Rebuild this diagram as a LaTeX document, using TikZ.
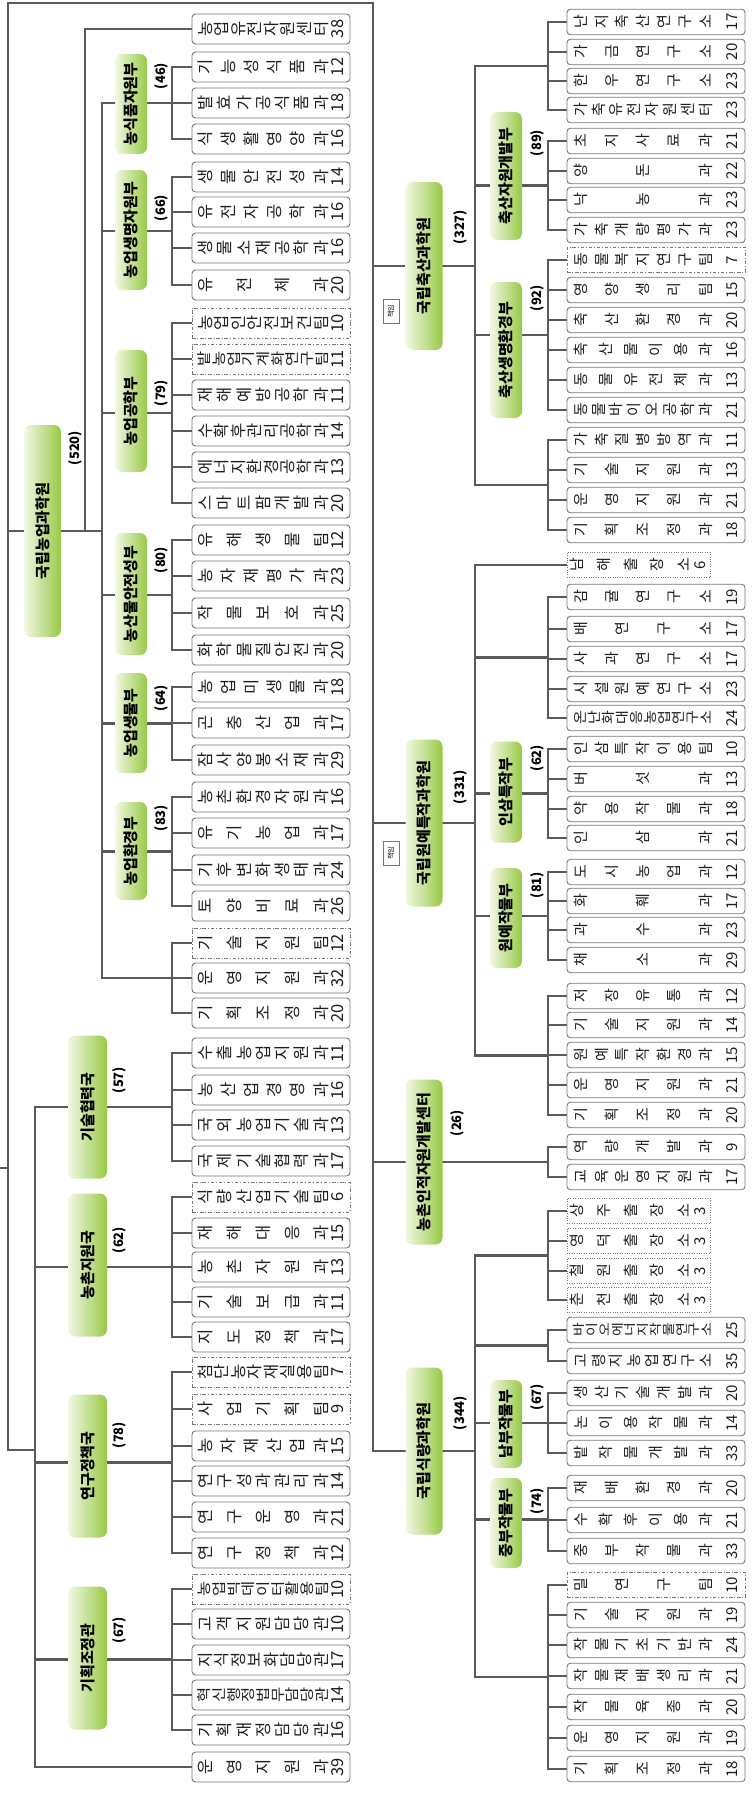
\documentclass[tikz,border=0pt]{standalone}
\usepackage{fontspec}
\setmainfont{Noto Sans CJK KR}
\usepackage{graphicx}
\usetikzlibrary{calc, backgrounds}
\definecolor{linegray}{HTML}{5A5A5A}
\definecolor{boxgray}{HTML}{777777}
\definecolor{leafgreen}{HTML}{98C946}
\definecolor{palegreen}{HTML}{F2F8E4}
\definecolor{inkgray}{HTML}{1E1E1E}

% one glyph (or a short run) turned a quarter turn, centred on a fixed strut
\newcommand{\rg}[1]{\rotatebox[origin=c]{90}{\rule[-0.12em]{0pt}{1em}#1}}
\def\spreadfill#1#2\relax{\rg{#1}\ifx\relax#2\relax\else\hfill\spreadfill#2\relax\fi}
\def\spreadtight#1#2\relax{\rg{#1}\ifx\relax#2\relax\else\kern0.4pt\spreadtight#2\relax\fi}
\newsavebox{\namebox}
% #1 row width, #2 name width, #3 name, #4 staff count
\newcommand{\leaftext}[4]{%
  \sbox{\namebox}{\expandafter\spreadtight#3\relax}%
  \hbox to #1pt{%
    \ifdim\wd\namebox>#2pt
      \resizebox{#2pt}{\height}{\usebox{\namebox}}%
    \else
      \hbox to #2pt{\expandafter\spreadfill#3\relax}%
    \fi
    \hfill\rg{#4}}}
% bracket: x of bracket, name prefix, first, last
\newcommand{\branch}[4]{%
  \draw[conn] (#1 |- #2#3.west) -- (#1 |- #2#4.west);
  \foreach \i in {#3,...,#4} {\draw[conn] (#1 |- #2\i.west) -- (#2\i.west);}
  \coordinate (m#2#3) at ($(#2#3.west)!0.5!(#2#4.west)$);}
% trunk -> group box -> bracket, at the height of the bracket middle
\newcommand{\feed}[4]{%
  \draw[conn] (#1 |- #3) -- (#2.west |- #3);
  \draw[conn] (#2.east |- #3) -- (#4 |- #3);}
\newcommand{\direct}[3]{\draw[conn] (#1 |- #2) -- (#3 |- #2);}

\begin{document}
\begin{tikzpicture}[x=1pt, y=-1pt,
  conn/.style={draw=linegray, line width=2.4pt, line cap=rect},
  leafL/.style={draw=boxgray, line width=0.9pt, fill=white, rounded corners=3.5pt,
    minimum width=158pt, minimum height=30pt, inner sep=0pt,
    font=\fontsize{16.5}{16.5}\selectfont, text=inkgray},
  dashL/.style={leafL, sharp corners, dash pattern=on 3.5pt off 1.8pt on 1pt off 1.8pt},
  leafR/.style={leafL, minimum width=178pt, minimum height=25.5pt,
    font=\fontsize{15}{15}\selectfont},
  dashR/.style={leafR, sharp corners, dash pattern=on 3.5pt off 1.8pt on 1pt off 1.8pt},
  dotS/.style={leafR, sharp corners, minimum width=143pt, dash pattern=on 1pt off 1.4pt},
  grn/.style={left color=palegreen, right color=leafgreen, rounded corners=7pt,
    inner sep=0pt, font=\fontsize{15}{15}\selectfont\bfseries, text=black},
  cnt/.style={inner sep=0pt, font=\fontsize{13}{13}\selectfont\bfseries, text=black},
  tag/.style={draw=boxgray, line width=0.6pt, fill=white, minimum width=16pt,
    minimum height=24pt, inner sep=0pt, font=\fontsize{7}{7}\selectfont}]

\useasboundingbox (0,0) rectangle (755,1795);

% --- trunk positions ---
\coordinate (root) at (0,1168);
\coordinate (topL) at (8,3);
\coordinate (topR) at (373,3);
\coordinate (a85) at (85,0);
\coordinate (tA) at (102,0);
\coordinate (tB) at (35,0);
\coordinate (jLB) at (35,1450);
\coordinate (bxL) at (172,0);
\coordinate (tC) at (475,0);
\coordinate (bxR) at (548,0);

% --- leaves, left column ---
\foreach \nd/\nm/\ct/\yy in {L0/농업유전자원센터/38/29,
  L1/기능성식품과/12/67, L2/발효가공식품과/18/103, L3/식생활영양과/16/139,
  L4/생물안전성과/14/177, L5/유전자공학과/16/212, L6/생물소재공학과/16/248, L7/유전체과/20/285,
  L10/재해예방공학과/11/395, L11/수확후관리공학과/14/431, L12/에너지환경공학과/13/467,
  L13/스마트팜개발과/20/503,
  L14/유해생물팀/12/540, L15/농자재평가과/23/576, L16/작물보호과/25/613, L17/화학물질안전과/20/650,
  L18/농업미생물과/18/687, L19/곤충산업과/17/723, L20/잠사양봉소재과/29/760,
  L21/농촌환경자원과/16/797, L22/유기농업과/17/833, L23/기후변화생태과/24/870, L24/토양비료과/26/906,
  L26/운영지원과/32/978, L27/기획조정과/20/1013,
  L28/수출농업지원과/11/1053, L29/농산업경영과/16/1090, L30/국외농업기술과/13/1125,
  L31/국제기술협력과/17/1161,
  L33/재해대응과/15/1233, L34/농촌자원과/13/1267, L35/기술보급과/11/1302, L36/지도정책과/17/1337,
  L39/농자재산업과/15/1446, L40/연구성과관리과/14/1481, L41/연구운영과/21/1517, L42/연구정책과/12/1553,
  L44/고객지원담당관/10/1624, L45/지식정보화담당관/17/1660, L46/혁신행정법무담당관/14/1695,
  L47/기획재정담당관/16/1730, L48/운영지원과/39/1767}
  \node[leafL] (\nd) at (271,\yy) {\leaftext{148}{132}{\nm}{\ct}};
\foreach \nd/\nm/\ct/\yy in {L8/농업인안전보건팀/10/323, L9/밭농업기계화연구팀/11/359,
  L25/기술지원팀/12/943, L32/식량산업기술팀/6/1197, L37/첨단농자재실용팀/7/1372,
  L38/사업기획팀/9/1409, L43/농업빅데이터활용팀/10/1589}
  \node[dashL] (\nd) at (271,\yy) {\leaftext{148}{132}{\nm}{\ct}};

% --- leaves, right column ---
\foreach \nd/\nm/\ct/\yy in {R0/난지축산연구소/17/22, R1/가금연구소/20/52, R2/한우연구소/23/81,
  R3/가축유전자원센터/23/110,
  R4/초지사료과/21/141, R5/양돈과/22/171, R6/낙농과/23/200, R7/가축개량평가과/23/230,
  R9/영양생리팀/15/290, R10/축산환경과/20/320, R11/축산물이용과/16/350, R12/동물유전체과/13/380,
  R13/동물바이오공학과/21/410,
  R14/가축질병방역과/11/440, R15/기술지원과/13/470, R16/운영지원과/21/500, R17/기획조정과/18/530,
  R19/감귤연구소/19/597, R20/배연구소/17/629, R21/사과연구소/17/659, R22/시설원예연구소/23/689,
  R23/온난화대응농업연구소/24/718,
  R24/인삼특작이용팀/10/749, R25/버섯과/13/779, R26/약용작물과/18/809, R27/인삼과/21/838,
  R28/도시농업과/12/872, R29/화훼과/17/901, R30/과수과/23/930, R31/채소과/29/960,
  R32/저장유통과/12/996, R33/기술지원과/14/1025, R34/원예특작환경과/15/1055,
  R35/운영지원과/21/1085, R36/기획조정과/20/1115,
  R37/역량개발과/9/1147, R38/교육운영지원과/17/1177,
  R43/바이오에너지작물연구소/25/1330, R44/고령지농업연구소/35/1361,
  R45/생산기술개발과/20/1393, R46/논이용작물과/14/1423, R47/밭작물개발과/33/1453,
  R48/재배환경과/20/1488, R49/수확후이용과/21/1520, R50/중부작물과/33/1551,
  R52/기술지원과/19/1615, R53/작물기초기반과/24/1645, R54/작물재배생리과/21/1676,
  R55/작물육종과/20/1707, R56/운영지원과/19/1738, R57/기획조정과/18/1769}
  \node[leafR] (\nd) at (656,\yy) {\leaftext{166}{140}{\nm}{\ct}};
\foreach \nd/\nm/\ct/\yy in {R8/동물복지연구팀/7/260, R51/밀연구팀/10/1585}
  \node[dashR] (\nd) at (656,\yy) {\leaftext{166}{140}{\nm}{\ct}};
\foreach \nd/\nm/\ct/\yy in {R18/남해출장소/6/565, R39/상주출장소/3/1211, R40/영덕출장소/3/1241,
  R41/철원출장소/3/1271, R42/춘천출장소/3/1300}
  \node[dotS] (\nd) at (638.5,\yy) {\leaftext{138}{122}{\nm}{\ct}};

% --- departments (부) ---
\foreach \nd/\nm/\ct/\xx/\yy/\hh/\cx/\cy in {gA1/농식품자원부/46/131/104/100/161/76,
  gA2/농업생명자원부/66/131/230/120/161/208, gA3/농업공학부/79/131/411/122/161/393,
  gA4/농산물안전성부/80/131/594/122/161/560, gA5/농업생물부/64/131/723/100/161/698,
  gA6/농업환경부/83/131/851/98/161/818,
  gC1/축산자원개발부/89/506/176/128/537/143, gC2/축산생명환경부/92/506/350/136/537/298,
  gC3/인삼특작부/62/506/792/101/537/758, gC4/원예작물부/81/506/918/100/537/885,
  gC5/남부작물부/67/506/1424/88/537/1397, gC6/중부작물부/74/506/1523/90/537/1501}{
  \node[grn, minimum width=32pt, minimum height=\hh pt] (\nd) at (\xx,\yy) {\rg{\nm}};
  \node[cnt] (\nd-n) at (\cx,\cy) {\rg{(\ct)}};
}

% --- bureaus (국) ---
\foreach \nd/\nm/\ct/\yy/\cy in {gB1/기술협력국/57/1107/1080, gB2/농촌지원국/62/1265/1240,
  gB3/연구정책국/78/1466/1435, gB4/기획조정관/67/1658/1630}{
  \node[grn, minimum width=39pt, minimum height=143pt] (\nd) at (87.5,\yy) {\rg{\nm}};
  \node[cnt] (\nd-n) at (119.5,\cy) {\rg{(\ct)}};
}

% --- institutes (원) ---
\foreach \nd/\nm/\ct/\xx/\yy/\hh/\cx/\cy in {nias/국립농업과학원/520/42.5/531/212/75/448,
  nlsc/국립축산과학원/327/424/266/168/460/227, nihh/국립원예특작과학원/331/424/823/167/460/787,
  hrdc/농촌인적자원개발센터/26/424/1162/165/457/1123, nics/국립식량과학원/344/424/1451/167/460/1413}{
  \node[grn, minimum width=37pt, minimum height=\hh pt] (\nd) at (\xx,\yy) {\rg{\nm}};
  \node[cnt] (\nd-n) at (\cx,\cy) {\rg{(\ct)}};
}

% --- agency tags ---
\node[tag] (tag1) at (391,311) {\rg{책임}};
\node[tag] (tag2) at (391,853) {\rg{책임}};

% --- connectors ---
\begin{scope}[on background layer]
\draw[conn] (root) -- (topL |- root);
\draw[conn] (jLB) -| (topL) -- (topR) |- (nics.west);

% 국립농업과학원
\draw[conn] (topL |- nias.west) -- (nias.west);
\draw[conn] (nias.east) -- (tA |- nias.east);
\draw[conn] (a85 |- nias.east) |- (L0.west);
\branch{bxL}{L}{1}{3}   \feed{tA}{gA1}{mL1}{bxL}
\branch{bxL}{L}{4}{7}   \feed{tA}{gA2}{mL4}{bxL}
\branch{bxL}{L}{8}{13}  \feed{tA}{gA3}{mL8}{bxL}
\branch{bxL}{L}{14}{17} \feed{tA}{gA4}{mL14}{bxL}
\branch{bxL}{L}{18}{20} \feed{tA}{gA5}{mL18}{bxL}
\branch{bxL}{L}{21}{24} \feed{tA}{gA6}{mL21}{bxL}
\branch{bxL}{L}{25}{27} \direct{tA}{mL25}{bxL}
\draw[conn] (tA |- mL1) -- (tA |- mL25);

% 국 / 관
\branch{bxL}{L}{28}{31} \feed{tB}{gB1}{mL28}{bxL}
\branch{bxL}{L}{32}{36} \feed{tB}{gB2}{mL32}{bxL}
\branch{bxL}{L}{37}{42} \feed{tB}{gB3}{mL37}{bxL}
\branch{bxL}{L}{43}{47} \feed{tB}{gB4}{mL43}{bxL}
\draw[conn] (tB |- mL28) |- (L48.west);

% 국립축산과학원
\draw[conn] (topR |- nlsc.west) -- (nlsc.west);
\draw[conn] (nlsc.east) -- (tC |- nlsc.east);
\branch{bxR}{R}{0}{3}   \direct{tC}{mR0}{bxR}
\branch{bxR}{R}{4}{7}   \feed{tC}{gC1}{mR4}{bxR}
\branch{bxR}{R}{8}{13}  \feed{tC}{gC2}{mR8}{bxR}
\branch{bxR}{R}{14}{17} \direct{tC}{mR14}{bxR}
\draw[conn] (tC |- mR0) -- (tC |- mR14);

% 국립원예특작과학원
\draw[conn] (topR |- nihh.west) -- (nihh.west);
\draw[conn] (nihh.east) -- (tC |- nihh.east);
\branch{bxR}{R}{19}{23} \direct{tC}{mR19}{bxR}
\branch{bxR}{R}{24}{27} \feed{tC}{gC3}{mR24}{bxR}
\branch{bxR}{R}{28}{31} \feed{tC}{gC4}{mR28}{bxR}
\branch{bxR}{R}{32}{36} \direct{tC}{mR32}{bxR}
\draw[conn] (tC |- mR32) |- (R18.west);

% 농촌인적자원개발센터
\draw[conn] (topR |- hrdc.west) -- (hrdc.west);
\branch{bxR}{R}{37}{38}
\draw[conn] (hrdc.east |- mR37) -- (bxR |- mR37);

% 국립식량과학원
\draw[conn] (nics.east) -- (tC |- nics.east);
\branch{bxR}{R}{39}{42} \direct{tC}{mR39}{bxR}
\branch{bxR}{R}{43}{44} \direct{tC}{mR43}{bxR}
\branch{bxR}{R}{45}{47} \feed{tC}{gC5}{mR45}{bxR}
\branch{bxR}{R}{48}{50} \feed{tC}{gC6}{mR48}{bxR}
\branch{bxR}{R}{51}{57} \direct{tC}{mR51}{bxR}
\draw[conn] (tC |- mR39) -- (tC |- mR51);
\end{scope}

\end{tikzpicture}
\end{document}
